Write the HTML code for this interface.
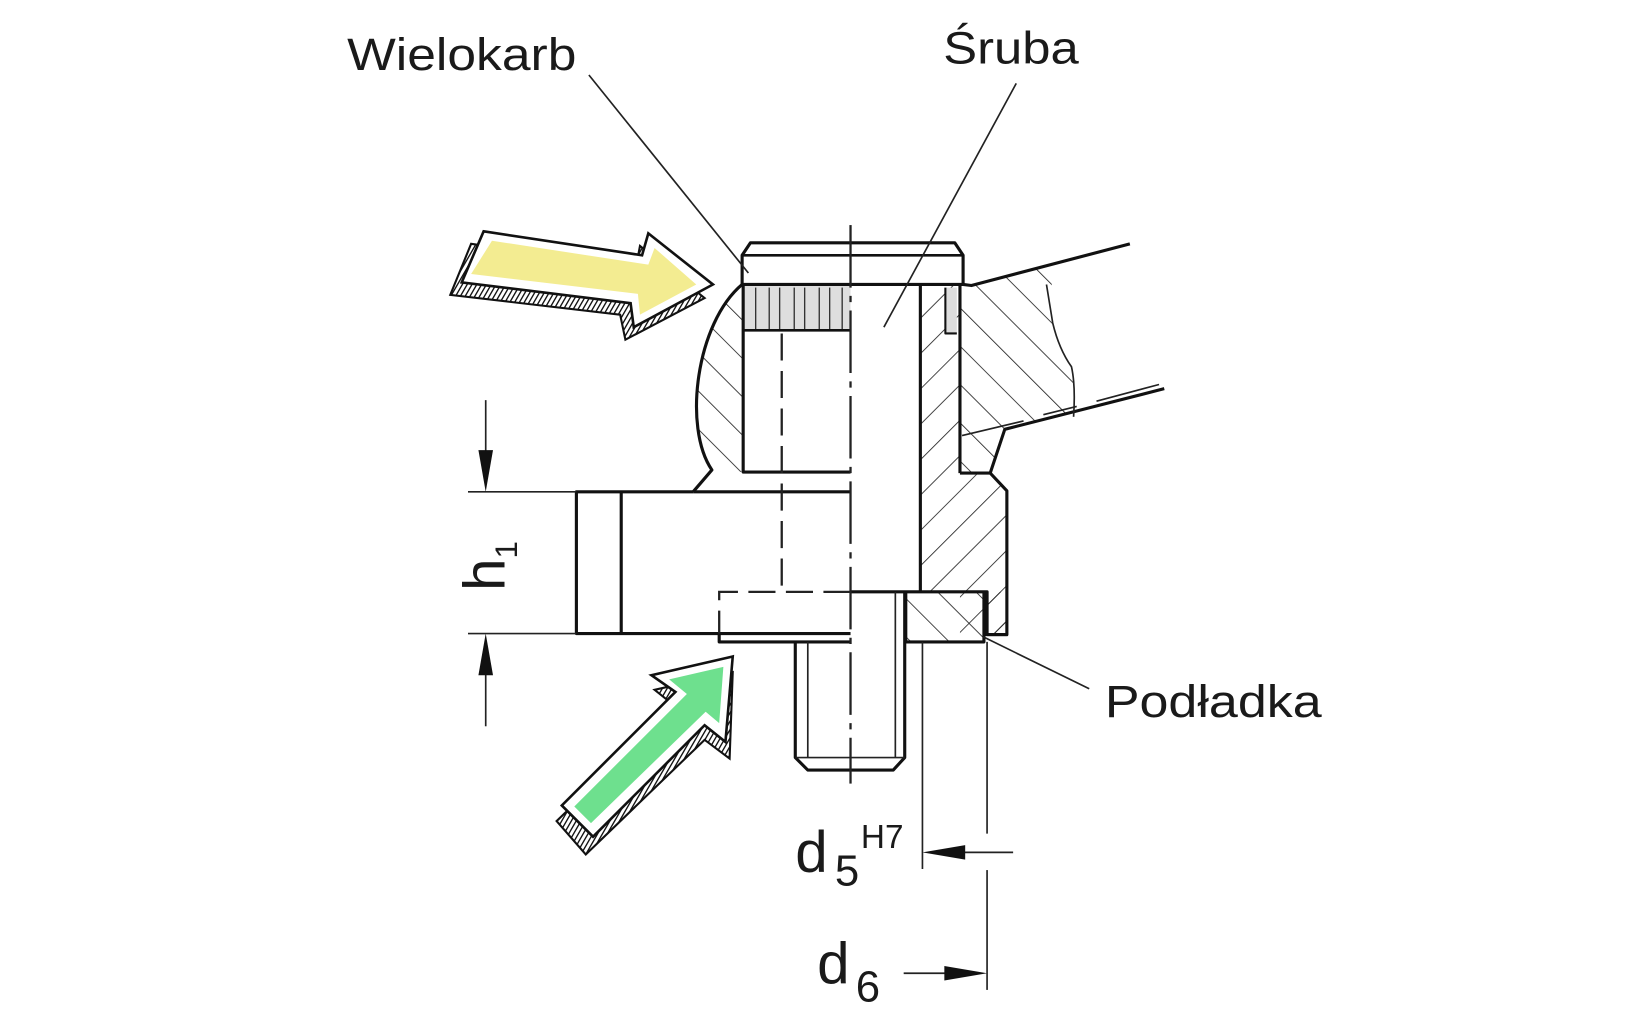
<!DOCTYPE html>
<html><head><meta charset="utf-8"><style>
html,body{margin:0;padding:0;background:#fff;}
svg{display:block;}
text{font-family:"Liberation Sans",Arial,sans-serif;fill:#1a1a1a;}
</style></head><body>
<svg width="1626" height="1017" viewBox="0 0 1560 976" preserveAspectRatio="none" xmlns="http://www.w3.org/2000/svg">
<defs>
<pattern id="hb" patternUnits="userSpaceOnUse" width="26" height="26" patternTransform="rotate(-45)"><line x1="0" y1="0" x2="0" y2="26" stroke="#222" stroke-width="1.6"/></pattern>
<pattern id="hf" patternUnits="userSpaceOnUse" width="24" height="24" patternTransform="rotate(45)"><line x1="0" y1="0" x2="0" y2="24" stroke="#222" stroke-width="1.6"/></pattern>
<pattern id="sh" patternUnits="userSpaceOnUse" width="4" height="4" patternTransform="rotate(30)"><rect width="4" height="4" fill="#fff"/><line x1="0" y1="0" x2="0" y2="4" stroke="#111" stroke-width="2.6"/></pattern>
</defs>

<!-- hatched regions -->
<path d="M712,273 C668,310 655,410 683,451 L712,453 Z" fill="url(#hb)"/>
<rect x="883" y="273" width="38" height="295" fill="url(#hf)"/>
<path d="M921,273 L932,274 L1084,234 L1117,373 L964,412 L950,454 L921,454 Z" fill="url(#hb)"/>
<path d="M921,454 L950,454 L966,471 L966,609 L921,609 Z" fill="url(#hf)"/>
<rect x="869" y="568" width="75" height="48" fill="url(#hb)"/>
<path d="M1008,230 L1010,310 Q1016,335 1028,352 Q1032,370 1030,400 L1130,400 L1130,230 Z" fill="#fff"/>
<rect x="947" y="568" width="20" height="41" fill="url(#hf)"/>
<rect x="907" y="276" width="11" height="44" fill="#ddd"/>

<!-- knurl -->
<rect x="713" y="273" width="103" height="44" fill="#dedede"/>
<g stroke="#333" stroke-width="1.3">
<line x1="725" y1="276" x2="725" y2="317"/><line x1="738" y1="276" x2="738" y2="317"/>
<line x1="748" y1="276" x2="748" y2="317"/><line x1="762" y1="276" x2="762" y2="317"/>
<line x1="772" y1="276" x2="772" y2="317"/><line x1="786" y1="276" x2="786" y2="317"/>
<line x1="796" y1="276" x2="796" y2="317"/><line x1="808" y1="276" x2="808" y2="317"/>
</g>

<g fill="none" stroke="#111" stroke-width="3" stroke-linejoin="round">
<path d="M712,273 V245 L720,233 H916 L924,245 V273"/>
<line x1="712" y1="245" x2="924" y2="245" stroke-width="2.5"/>
<line x1="712" y1="273" x2="924" y2="273"/>
<line x1="713" y1="317" x2="816" y2="317" stroke-width="2.5"/>
<path d="M712,273 C668,310 655,410 683,451 L665,472"/>
<path d="M713,273 V453 H816"/>
<path d="M665,472 H553 V608 H816" />
<line x1="596" y1="472" x2="596" y2="608"/>
<line x1="665" y1="472" x2="816" y2="472"/>
<line x1="883" y1="273" x2="883" y2="568"/>
<line x1="921" y1="273" x2="921" y2="454"/>
<path d="M907,276 V320 H918" stroke-width="2"/>
<path d="M921,454 H950 L966,471 V609 H944"/>
<path d="M950,454 L964,412 L1117,373"/>
<path d="M924,273 L932,274 L1084,234"/>
<path d="M816,568 H947 V609"/>
<path d="M869,568 V616 H944 V568"/>
<line x1="947" y1="609" x2="967" y2="609"/>
<path d="M690,608 V616 H816"/>
<path d="M763,616 V727 L775,739 H857 L868,727 V568"/>
</g>
<g fill="none" stroke="#222" stroke-width="1.6">
<line x1="775" y1="616" x2="775" y2="727"/>
<line x1="859" y1="568" x2="859" y2="727"/>
<line x1="763" y1="727" x2="868" y2="727"/>
<path d="M1004,273 L1010,310 Q1016,335 1028,352 Q1032,370 1030,400"/>
<path d="M923,418 L982,404 M1001,398 L1033,390 M1052,385 L1112,369"/>
<line x1="565" y1="72" x2="718" y2="262"/>
<line x1="975" y1="80" x2="848" y2="314"/>
<line x1="943" y1="611" x2="1045" y2="661"/>
<line x1="885" y1="616" x2="885" y2="834"/>
<line x1="947" y1="616" x2="947" y2="800"/>
<line x1="947" y1="835" x2="947" y2="950"/>
<line x1="449" y1="472" x2="553" y2="472"/>
<line x1="449" y1="608" x2="553" y2="608"/>
<line x1="466" y1="384" x2="466" y2="440"/>
<line x1="466" y1="640" x2="466" y2="697"/>
<line x1="925" y1="818" x2="972" y2="818"/>
<line x1="867" y1="934" x2="910" y2="934"/>
</g>
<g fill="none" stroke="#222" stroke-width="2.2">
<line x1="816" y1="216" x2="816" y2="752" stroke-dasharray="60,8,6,8"/>
<line x1="750" y1="320" x2="750" y2="568" stroke-dasharray="26,10"/>
<path d="M816,568 H690 V608" stroke-dasharray="26,10"/>
</g>
<g fill="#111">
<polygon points="466,472 459,432 473,432"/>
<polygon points="466,608 459,648 473,648"/>
<polygon points="885,818 926,811 926,825"/>
<polygon points="947,934 906,927 906,941"/>
</g>

<!-- yellow arrow -->
<polygon points="452,234 610,257 614,236 676,286 600,326 595,302 432,283" fill="url(#sh)" stroke="#111" stroke-width="2"/>
<polygon points="464,222 616,245 622,224 684,273 608,314 605,291 443,271" fill="#fff" stroke="#111" stroke-width="2.5"/>
<polygon points="472,231 622,254 628,238 668,273 614,302 612,282 452,263" fill="#f3ec91"/>

<!-- green arrow -->
<polygon points="703,645 628,662 648,678 534,788 562,820 676,710 700,728" fill="url(#sh)" stroke="#111" stroke-width="2"/>
<polygon points="703,630 625,648 648,664 539,773 569,803 676,696 696,712" fill="#fff" stroke="#111" stroke-width="2.5"/>
<polygon points="694,640 642,652 659,666 551,774 567,790 677,683 690,694" fill="#6ee08e"/>

<text x="333" y="67" font-size="44" textLength="220" lengthAdjust="spacingAndGlyphs">Wielokarb</text>
<text x="905" y="61" font-size="44" textLength="130" lengthAdjust="spacingAndGlyphs">Śruba</text>
<text x="1060" y="688" font-size="44" textLength="208" lengthAdjust="spacingAndGlyphs">Podładka</text>
<text x="763" y="837" font-size="56">d</text>
<text x="801" y="850" font-size="42">5</text>
<text x="826" y="814" font-size="32">H7</text>
<text x="784" y="944" font-size="56">d</text>
<text x="821" y="961" font-size="42">6</text>
<text transform="translate(484,567) rotate(-90)" font-size="56">h</text>
<text transform="translate(496,536) rotate(-90)" font-size="30">1</text>
</svg>
</body></html>
